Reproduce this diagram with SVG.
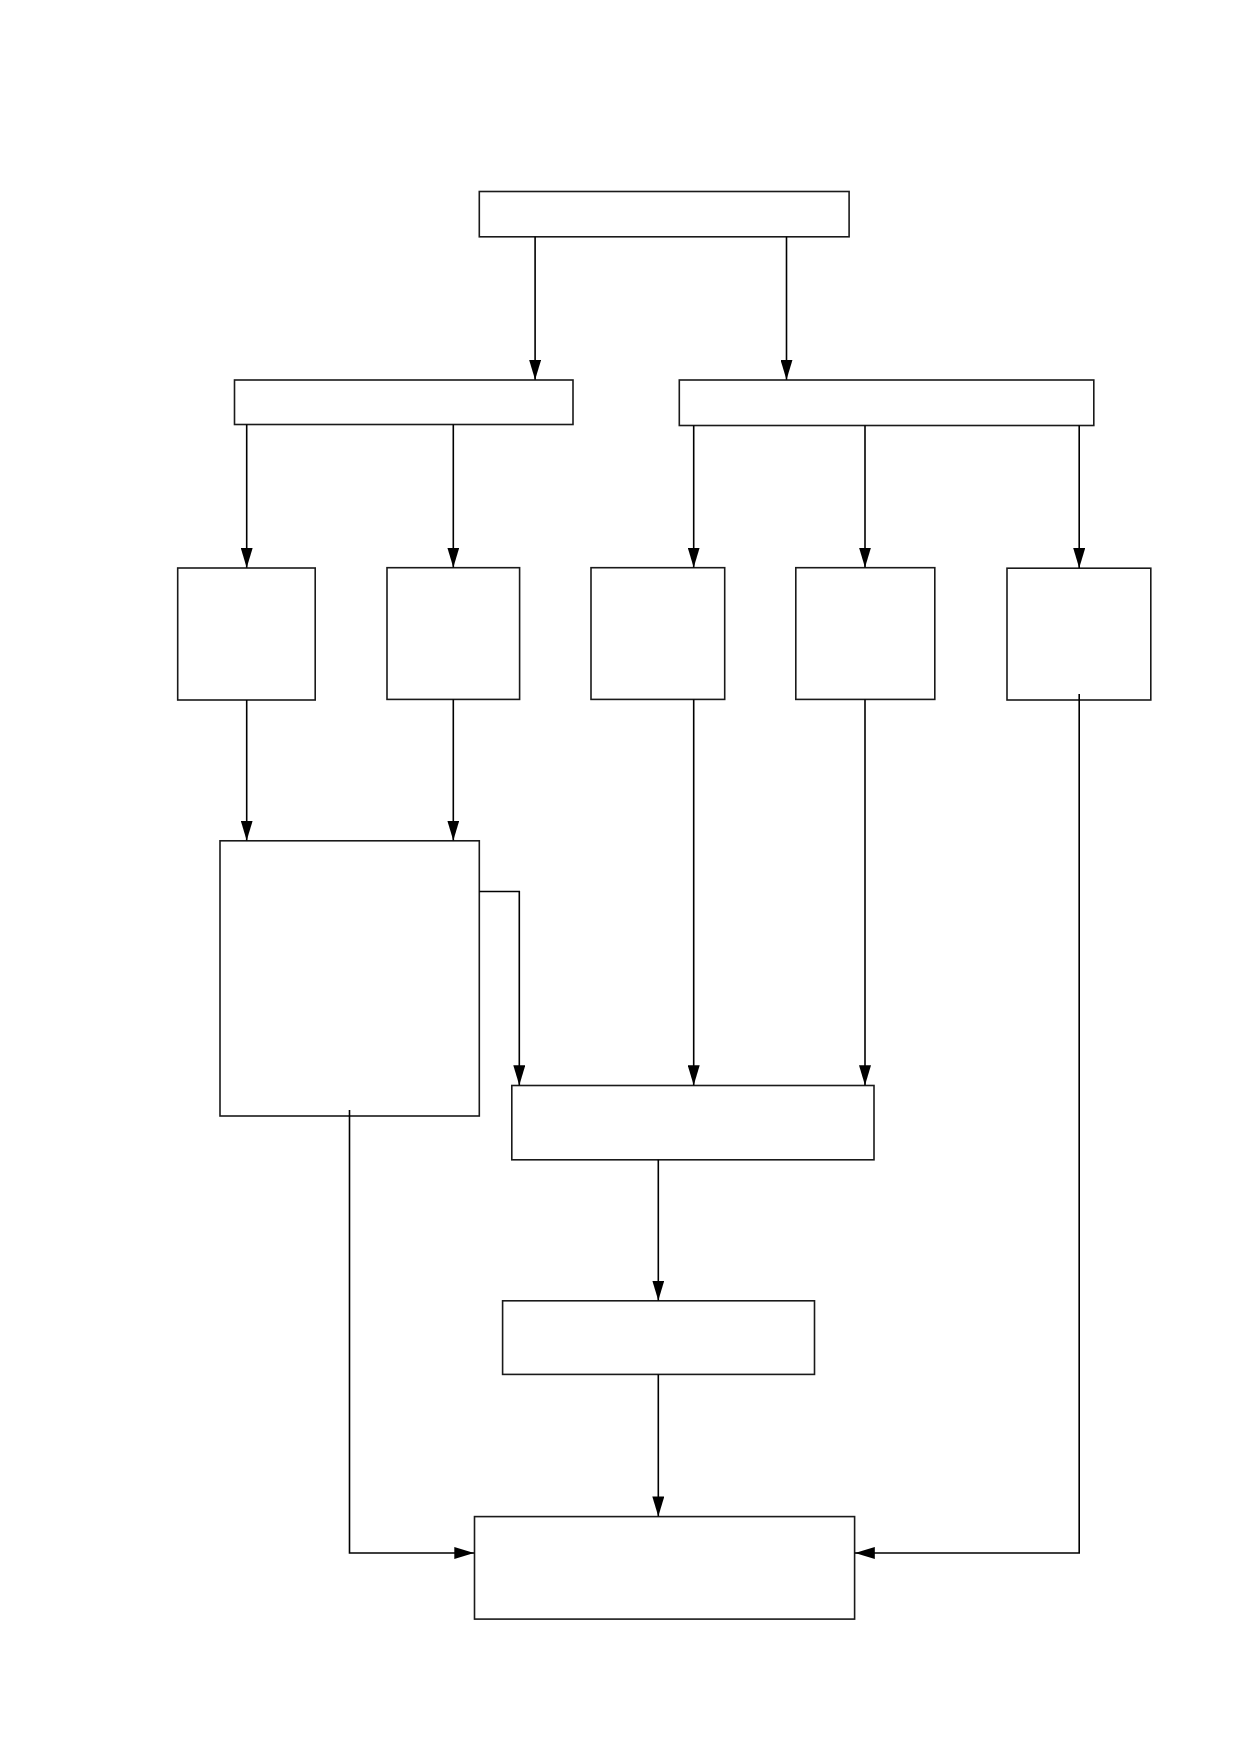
<svg xmlns="http://www.w3.org/2000/svg" width="1239" height="1752" viewBox="0 0 1239 1752">
<style>
.node rect{fill:#fff;stroke:#1a1a1a;stroke-width:1.6}
.edge{fill:none;stroke:#000;stroke-width:1.6;marker-end:url(#arr)}
</style>
<defs>
<marker id="arr" markerUnits="userSpaceOnUse" markerWidth="20" markerHeight="12" refX="20" refY="6" orient="auto">
<path d="M0,0 L20,6 L0,12 z" fill="#000"/>
</marker>
</defs>
<rect width="1239" height="1752" fill="#fff"/>
<g id="nodes">
<g id="n_top" class="node"><rect x="479.3" y="191.5" width="369.8" height="45.3"/></g>
<g id="n_left" class="node"><rect x="234.5" y="380" width="338.5" height="44.5"/></g>
<g id="n_right" class="node"><rect x="679.3" y="380" width="414.5" height="45.5"/></g>
<g id="n_a" class="node"><rect x="177.7" y="568" width="137.5" height="132"/></g>
<g id="n_b" class="node"><rect x="387" y="567.7" width="132.6" height="131.7"/></g>
<g id="n_c" class="node"><rect x="591" y="567.7" width="133.7" height="131.7"/></g>
<g id="n_d" class="node"><rect x="795.8" y="567.7" width="139" height="131.7"/></g>
<g id="n_e" class="node"><rect x="1007" y="568.2" width="143.8" height="131.8"/></g>
<g id="n_f" class="node"><rect x="220" y="840.8" width="259.3" height="275.2"/></g>
<g id="n_g" class="node"><rect x="511.8" y="1085.5" width="362.2" height="74.3"/></g>
<g id="n_h" class="node"><rect x="502.6" y="1300.8" width="311.9" height="73.6"/></g>
<g id="n_i" class="node"><rect x="474.5" y="1516.6" width="380.1" height="102.5"/></g>
</g>
<g id="connectors">
<path class="edge" d="M535.1,236.8 V379.8"/>
<path class="edge" d="M786.5,236.8 V379.8"/>
<path class="edge" d="M246.7,424.5 V567.8"/>
<path class="edge" d="M453.3,424.5 V567.5"/>
<path class="edge" d="M693.7,425.5 V567.5"/>
<path class="edge" d="M865,425.5 V567.5"/>
<path class="edge" d="M1079.2,425.5 V568"/>
<path class="edge" d="M246.7,700 V840.6"/>
<path class="edge" d="M453.3,699.4 V840.6"/>
<path class="edge" d="M693.7,699.4 V1085.3"/>
<path class="edge" d="M865,699.4 V1085.3"/>
<path class="edge" d="M479.3,891.5 H519.3 V1085.3"/>
<path class="edge" d="M658.3,1159.8 V1300.6"/>
<path class="edge" d="M658.3,1374.4 V1516.4"/>
<path class="edge" d="M349.5,1110 V1553 H474.3"/>
<path class="edge" d="M1079.2,694 V1553 H854.8"/>
</g>
</svg>
